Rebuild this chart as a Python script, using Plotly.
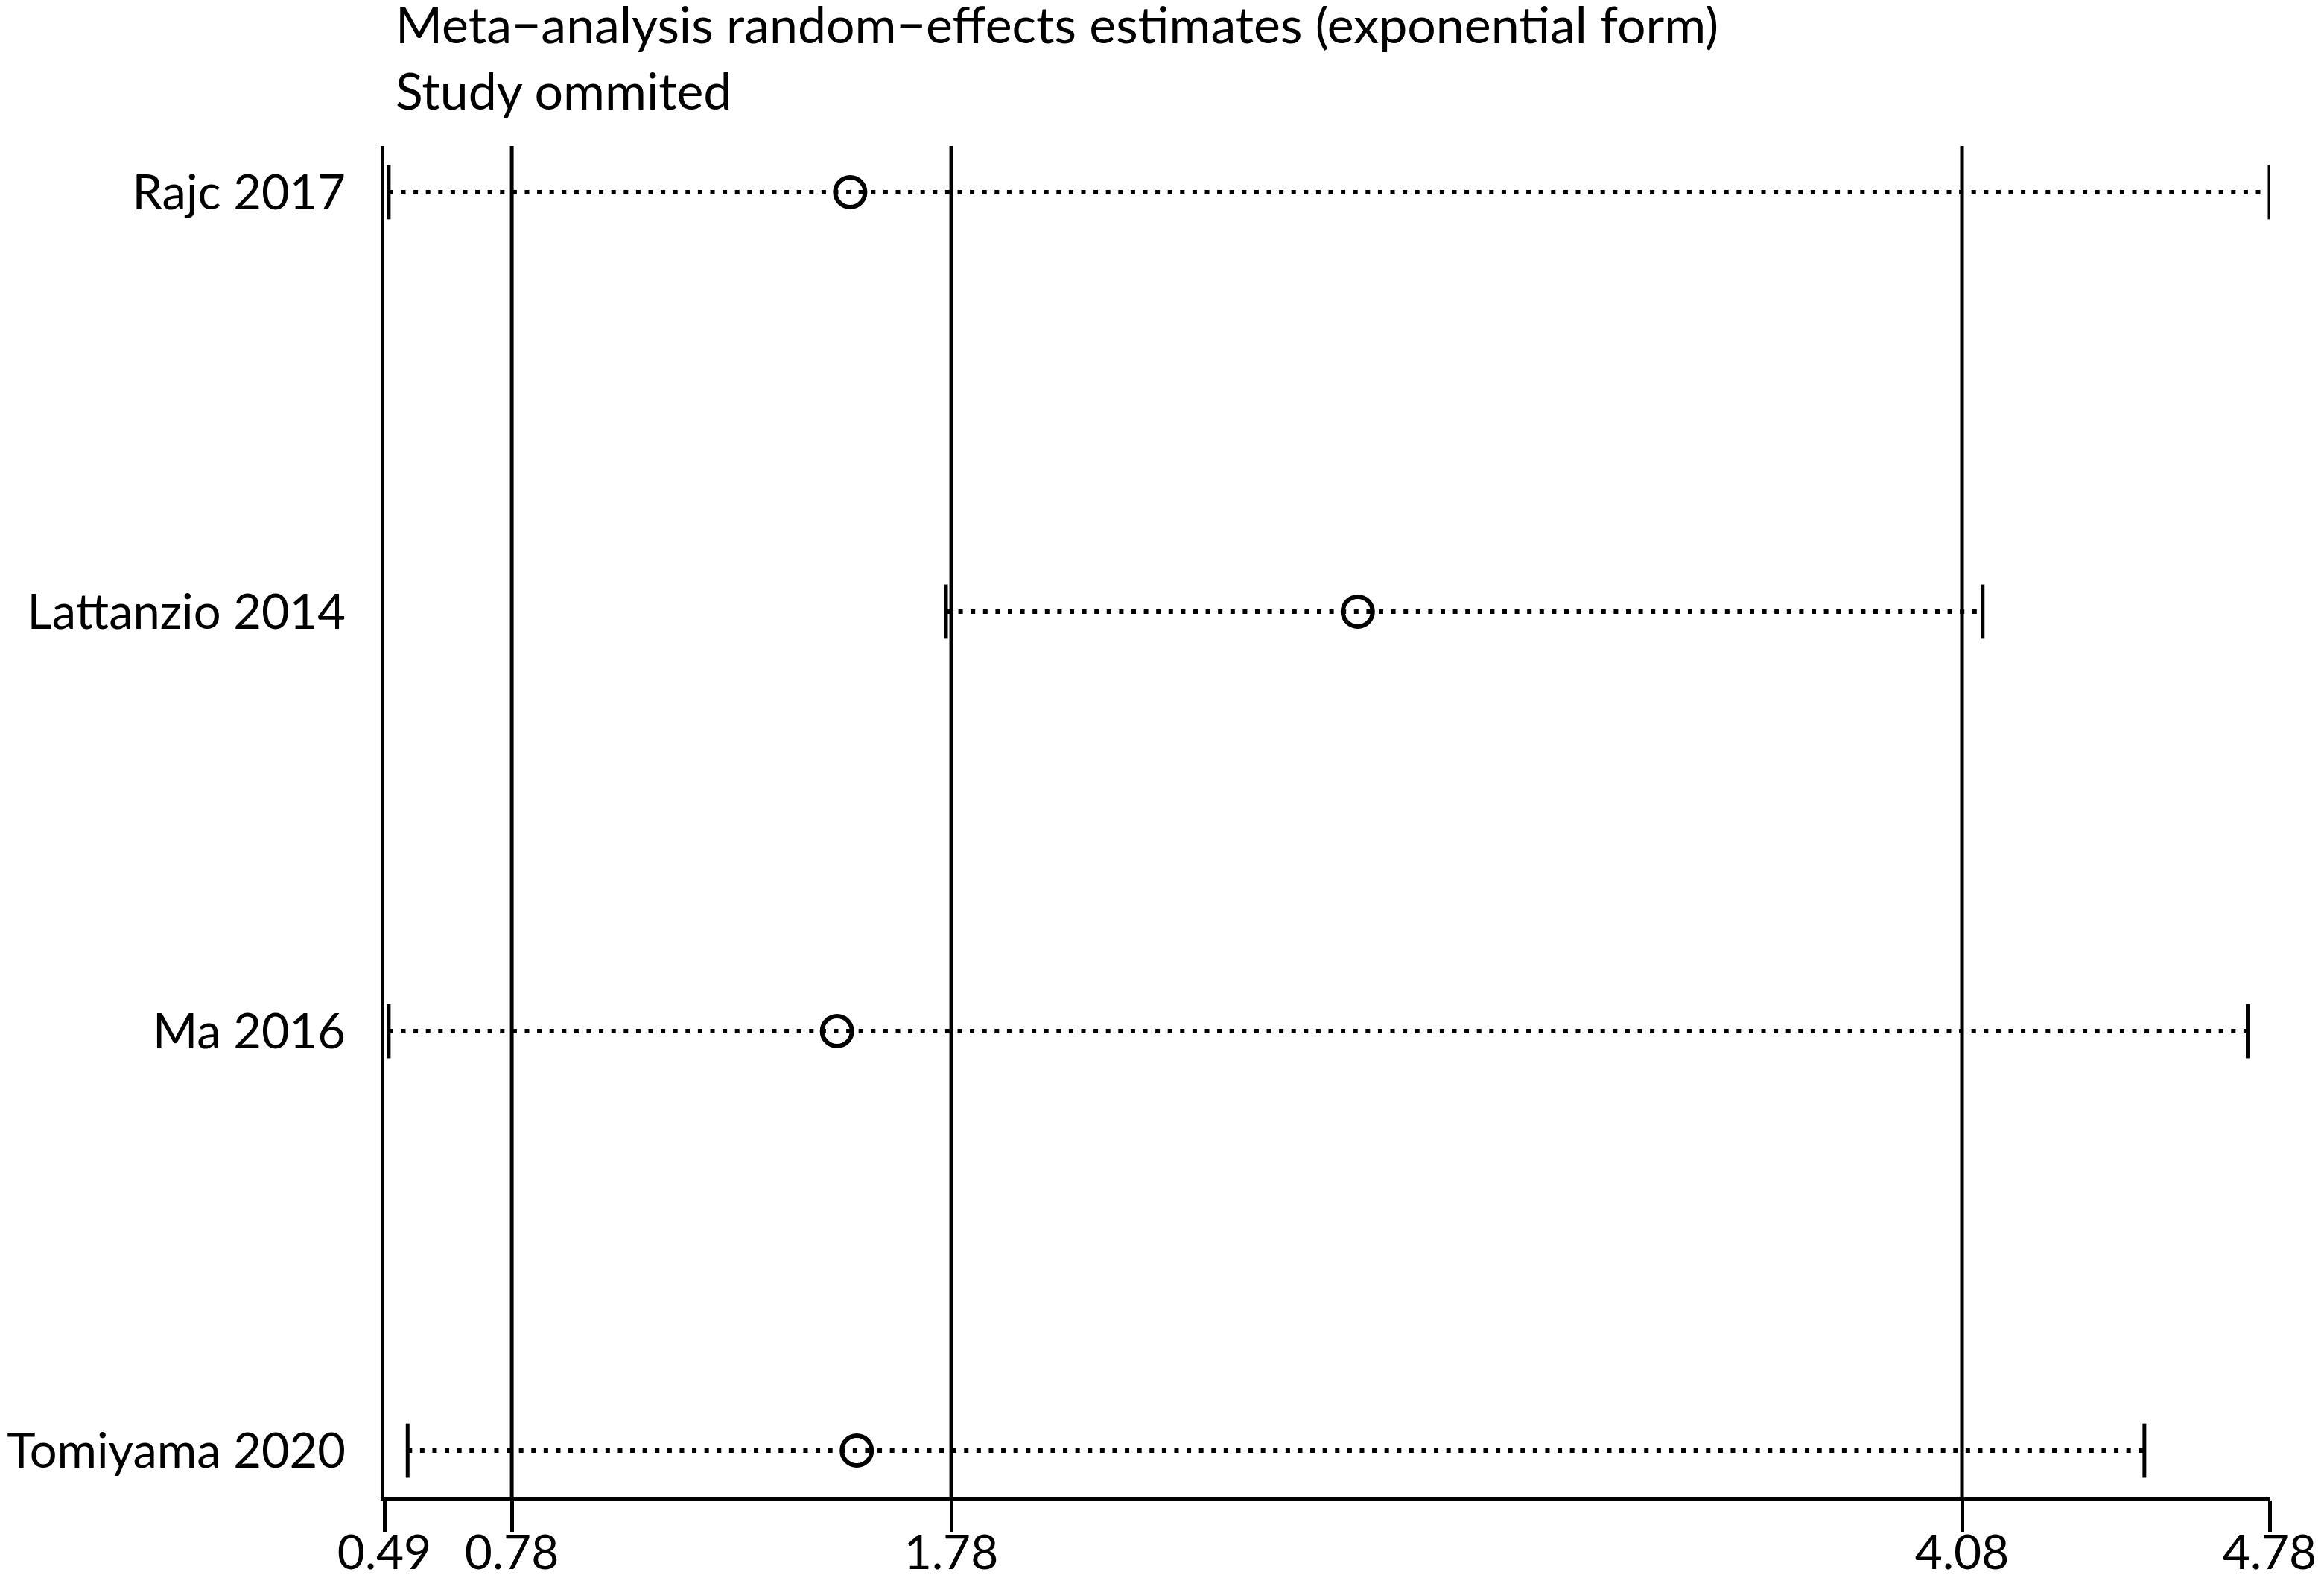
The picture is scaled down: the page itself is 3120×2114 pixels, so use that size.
import plotly.graph_objects as go

# study omitted and the pooled estimate without it
studies = ["Rajc 2017", "Lattanzio 2014", "Ma 2016", "Tomiyama 2020"]
est = [1.55, 2.705, 1.52, 1.565]
lower = [0.50, 1.768, 0.50, 0.543]
upper = [4.78, 4.127, 4.73, 4.495]

# overall random-effects estimate and CI (reference lines)
ref_lines = [0.78, 1.78, 4.08]
tick_vals = [0.49, 0.78, 1.78, 4.08, 4.78]

FONT = "Lato"
W, H = 3120, 2114

fig = go.Figure()

# dotted CI lines
for s, lo, hi in zip(studies, lower, upper):
    fig.add_trace(go.Scatter(x=[lo, hi], y=[s, s], mode="lines",
                             line=dict(color="black", width=6, dash="6px,10.6px"),
                             showlegend=False, hoverinfo="skip"))

# CI end caps
fig.add_trace(go.Scatter(x=lower + upper, y=studies + studies, mode="markers",
                         marker=dict(symbol="line-ns-open", size=52, color="black",
                                     line=dict(color="black", width=5)),
                         showlegend=False))

# point estimates
fig.add_trace(go.Scatter(x=est, y=studies, mode="markers",
                         marker=dict(symbol="circle-open", size=40, color="black",
                                     line=dict(color="black", width=6)),
                         showlegend=False))

for v in ref_lines:
    fig.add_shape(type="line", x0=v, x1=v, xref="x", y0=0, y1=1, yref="paper",
                  line=dict(color="black", width=5))

fig.add_annotation(text="Meta\u2212analysis random\u2212effects estimates (exponential form)",
                   x=0, xref="paper", xanchor="left", xshift=13,
                   y=1.0905, yref="paper", yanchor="middle", showarrow=False,
                   font=dict(family=FONT, size=68, color="black"))
fig.add_annotation(text="Study ommited",
                   x=0, xref="paper", xanchor="left", xshift=13,
                   y=1.0419, yref="paper", yanchor="middle", showarrow=False,
                   font=dict(family=FONT, size=68, color="black"))

# page body has an 8px margin, so the figure sits 8px in from top-left
fig.update_layout(
    width=W, height=H,
    margin=dict(l=508, r=81, t=188, b=113, autoexpand=False),
    paper_bgcolor="white", plot_bgcolor="white",
    font=dict(family=FONT, size=65, color="black"),
    showlegend=False,
)
fig.update_xaxes(range=[0.49, 4.78], tickvals=tick_vals,
                 ticktext=["%.2f" % v for v in tick_vals],
                 showgrid=False, zeroline=False, automargin=False,
                 showline=True, linecolor="black", linewidth=6,
                 ticks="outside", ticklen=41, tickwidth=5, tickcolor="black",
                 ticklabeloverflow="allow", ticklabelstandoff=-27,
                 tickfont=dict(family=FONT, size=64, color="black"))
fig.update_yaxes(type="category", categoryarray=studies,
                 range=[3.11, -0.11], showgrid=False, zeroline=False,
                 automargin=False,
                 showline=True, linecolor="black", linewidth=5,
                 ticks="", ticklabelstandoff=34,
                 tickfont=dict(family=FONT, size=65, color="black"))

fig.write_html("out.html")
